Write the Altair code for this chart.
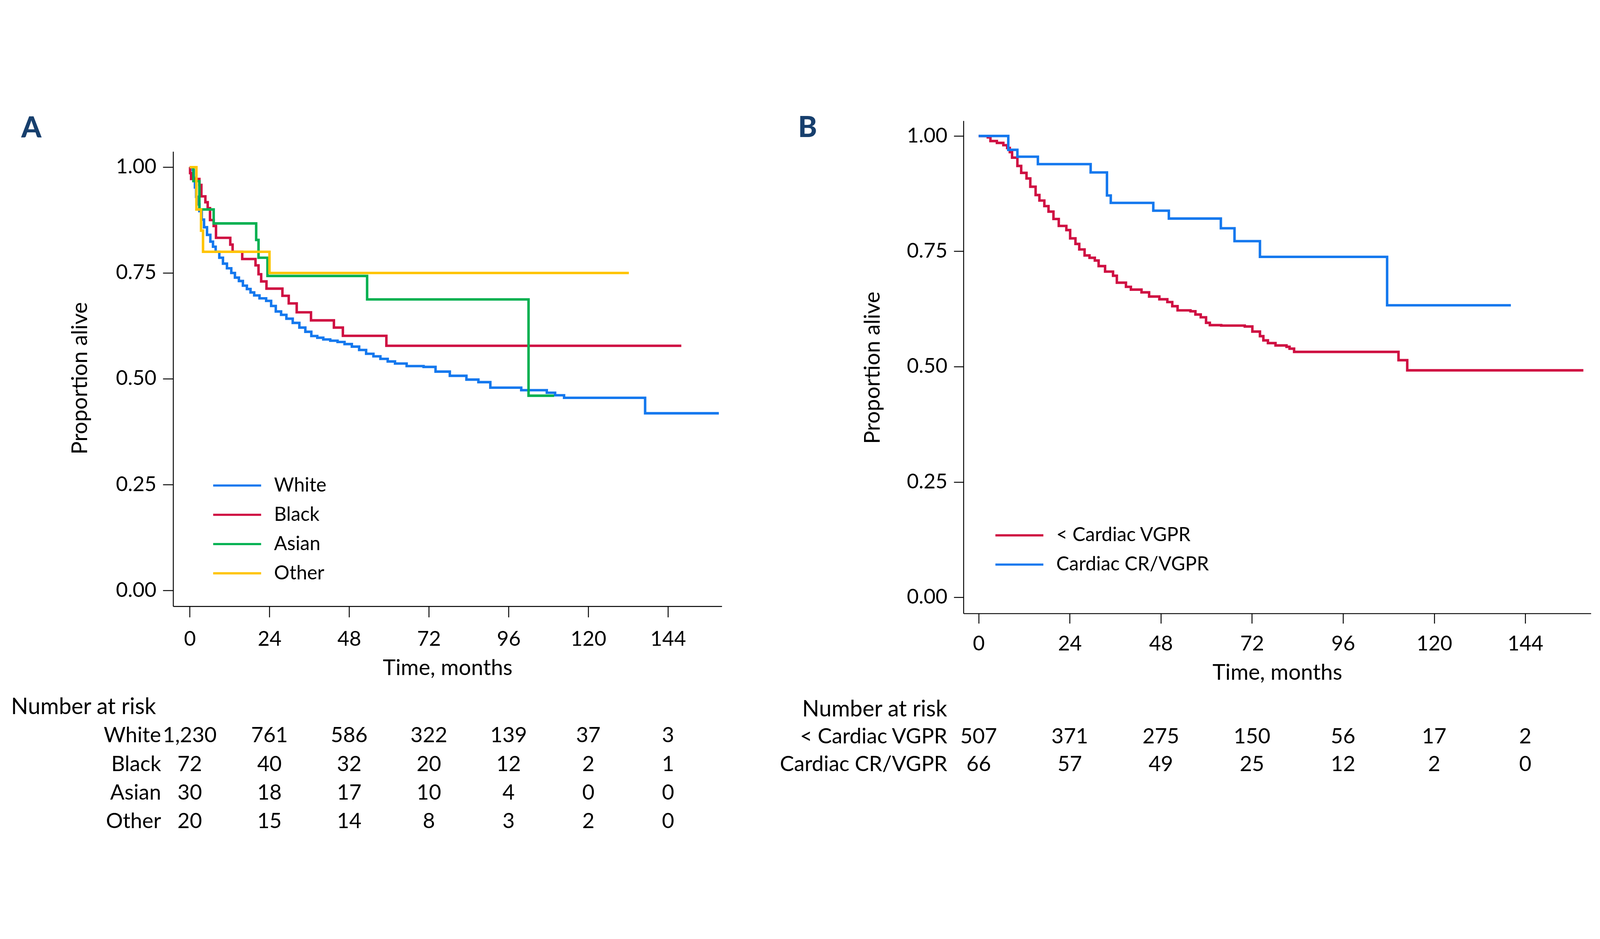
import altair as alt
import pandas as pd

FONT = "Lato"

# ---------------- Panel A : survival by race ----------------
races = ["White", "Black", "Asian", "Other"]
race_colors = ["#1478EE", "#CF0F42", "#00B050", "#FFC400"]

white_t = [0, 0.9, 1.2, 1.55, 1.9, 2.4, 2.9, 3.6, 4.3, 5.2, 6.2, 7.0, 7.8, 8.9, 10.0, 11.2, 12.5,
           13.6, 14.8, 16.0, 17.2, 18.3, 19.4, 21.0, 23.0, 24.5, 25.9, 27.5, 29.1, 31.0, 33.0,
           34.8, 36.6, 38.4, 40.2, 42.3, 44.5, 46.6, 48.8, 51.0, 53.1, 55.3, 57.4, 59.6, 61.8,
           65.3, 70.4, 74.0, 78.3, 83.3, 86.9, 90.5, 99.8, 107.5, 110.0, 112.7, 137.1, 159.3]
white_s = [1.0, 0.993, 0.975, 0.952, 0.930, 0.912, 0.896, 0.876, 0.858, 0.840, 0.824, 0.812, 0.800,
           0.786, 0.772, 0.761, 0.750, 0.739, 0.731, 0.720, 0.712, 0.704, 0.697, 0.690, 0.684,
           0.672, 0.659, 0.651, 0.642, 0.632, 0.621, 0.611, 0.601, 0.597, 0.593, 0.590, 0.587,
           0.582, 0.576, 0.568, 0.559, 0.553, 0.547, 0.541, 0.536, 0.530, 0.528, 0.517, 0.507,
           0.498, 0.492, 0.479, 0.473, 0.467, 0.461, 0.455, 0.4185, 0.4185]

black_t = [0, 0.1, 0.4, 2.9, 3.5, 4.7, 5.4, 6.1, 7.2, 7.9, 12.2, 12.9, 15.8, 19.8, 20.7, 21.5,
           23.1, 27.9, 29.8, 32.2, 36.5, 43.4, 46.1, 59.2, 148.0]
black_s = [1.0, 0.986, 0.972, 0.958, 0.931, 0.917, 0.903, 0.875, 0.861, 0.833, 0.817, 0.800,
           0.783, 0.768, 0.747, 0.730, 0.713, 0.696, 0.678, 0.657, 0.638, 0.621, 0.6015, 0.578, 0.578]

asian_t = [0, 1.1, 2.9, 7.2, 20.0, 20.7, 23.4, 53.4, 102.0, 109.7]
asian_s = [1.0, 0.967, 0.900, 0.867, 0.828, 0.786, 0.743, 0.6875, 0.460, 0.460]

other_t = [0, 2.0, 3.4, 4.0, 24.0, 132.2]
other_s = [1.0, 0.900, 0.850, 0.800, 0.750, 0.750]

risk_times = [0, 24, 48, 72, 96, 120, 144]
risk_white = [1230, 761, 586, 322, 139, 37, 3]
risk_black = [72, 40, 32, 20, 12, 2, 1]
risk_asian = [30, 18, 17, 10, 4, 0, 0]
risk_other = [20, 15, 14, 8, 3, 2, 0]

# ---------------- Panel B : survival by cardiac response ----------------
responses = ["< Cardiac VGPR", "Cardiac CR/VGPR"]
resp_colors = ["#CF0F42", "#1478EE"]

low_t = [0, 2.4, 3.1, 4.8, 6.5, 7.5, 8.2, 8.8, 10.2, 11.2, 12.6, 13.6, 15.0, 16.0, 17.3, 18.4,
         19.7, 21.1, 23.1, 24.1, 25.5, 26.5, 27.9, 29.2, 30.6, 31.6, 33.3, 35.4, 36.4, 38.8, 40.1,
         42.9, 44.9, 47.6, 49.7, 51.0, 52.4, 55.8, 57.1, 58.5, 59.9, 60.9, 63.9, 70.1, 72.1, 74.1,
         75.0, 76.2, 78.2, 81.1, 81.9, 83.1, 110.6, 112.9, 159.3]
low_s = [1.0, 0.997, 0.989, 0.985, 0.980, 0.974, 0.965, 0.953, 0.935, 0.920, 0.908, 0.890, 0.872,
         0.860, 0.848, 0.836, 0.820, 0.805, 0.796, 0.778, 0.766, 0.754, 0.741, 0.736, 0.730, 0.718,
         0.706, 0.697, 0.682, 0.673, 0.667, 0.661, 0.652, 0.646, 0.640, 0.631, 0.622, 0.620, 0.613,
         0.607, 0.595, 0.590, 0.589, 0.587, 0.576, 0.566, 0.557, 0.551, 0.546, 0.543, 0.539, 0.532,
         0.514, 0.492, 0.492]

good_t = [0, 7.8, 10.2, 15.6, 29.5, 33.8, 34.8, 46.0, 50.1, 63.8, 67.4, 74.1, 107.6, 140.2]
good_s = [1.0, 0.970, 0.955, 0.939, 0.921, 0.871, 0.855, 0.838, 0.821, 0.800, 0.772, 0.738, 0.633, 0.633]

risk_low = [507, 371, 275, 150, 56, 17, 2]
risk_good = [66, 57, 49, 25, 12, 2, 0]

y_ticks = [0, 0.25, 0.5, 0.75, 1.0]
HEADER = "Number at risk"


def curves_df(groups, ts, ss):
    rows = []
    for g, t, s in zip(groups, ts, ss):
        rows += [{"group": g, "t": a, "s": b} for a, b in zip(t, s)]
    return pd.DataFrame(rows)


def risk_df(groups, counts):
    rows = []
    for g, c in zip(groups, counts):
        rows += [{"row": g, "t": a, "n": b} for a, b in zip(risk_times, c)]
    return pd.DataFrame(rows)


def panel(cdf, rdf, groups, colors, width, height, x_domain, y_domain, y_range, legend_x, legend_y,
          row_range, label_dx, header_dx, letter, letter_dx, letter_dy, ytitle_x, ytitle_y,
          x_tick, x_lpad, x_tpad, y_tick, y_lpad):
    x_enc = alt.X("t:Q", title="Time, months",
                  scale=alt.Scale(domain=x_domain, nice=False, zero=False),
                  axis=alt.Axis(values=risk_times, format="d", tickSize=x_tick,
                                labelPadding=x_lpad, titlePadding=x_tpad))
    if y_range is not None:
        y_scale = alt.Scale(domain=y_domain, range=y_range, nice=False, zero=False)
    else:
        y_scale = alt.Scale(domain=y_domain, nice=False, zero=False)
    y_enc = alt.Y("s:Q", title="Proportion alive", scale=y_scale,
                  axis=alt.Axis(values=y_ticks, format=".2f", tickSize=y_tick,
                                labelPadding=y_lpad, titleX=ytitle_x, titleY=ytitle_y,
                                titleBaseline="middle", titleAngle=270))
    lines = alt.Chart(cdf).mark_line(
        interpolate="step-after", strokeWidth=8, strokeJoin="miter", strokeCap="butt"
    ).encode(
        x=x_enc,
        y=y_enc,
        color=alt.Color("group:N", scale=alt.Scale(domain=groups, range=colors),
                        legend=alt.Legend(orient="none", legendX=legend_x, legendY=legend_y,
                                          title=None, symbolType="stroke", symbolSize=23716,
                                          symbolStrokeWidth=7, labelFont=FONT, labelFontSize=62,
                                          labelColor="black", labelOffset=38, clipHeight=66,
                                          rowPadding=28, padding=0, labelLimit=0)),
    )
    # panel letter, anchored at the axis origin / top tick
    letter_df = pd.DataFrame({"t": [risk_times[0]], "s": [y_ticks[-1]], "letter": [letter]})
    letter_mark = alt.Chart(letter_df).mark_text(
        font=FONT, fontSize=92, fontWeight=900, color="#173F6D", align="left",
        baseline="alphabetic", dx=letter_dx, dy=letter_dy
    ).encode(x=x_enc, y=y_enc, text="letter:N")

    row_domain = [HEADER] + groups
    y_row = alt.Y("row:N", axis=None,
                  scale=alt.Scale(type="point", domain=row_domain, range=row_range, padding=0))
    nums = alt.Chart(rdf).mark_text(font=FONT, fontSize=68, baseline="middle", align="center",
                                    color="black").encode(
        x=x_enc, y=y_row, text=alt.Text("n:Q", format=","))
    lab_df = pd.DataFrame({"row": groups, "t": [risk_times[0]] * len(groups)})
    labels = alt.Chart(lab_df).mark_text(font=FONT, fontSize=68, baseline="middle", align="right",
                                         dx=label_dx, color="black").encode(
        x=x_enc, y=y_row, text="row:N")
    head_df = pd.DataFrame({"row": [HEADER], "t": [risk_times[0]]})
    head = alt.Chart(head_df).mark_text(font=FONT, fontSize=72, baseline="middle", align="left",
                                        dx=header_dx, color="black").encode(
        x=x_enc, y=y_row, text="row:N")
    table = alt.layer(nums, labels, head)
    return alt.layer(alt.layer(lines, letter_mark), table).resolve_scale(
        y="independent").properties(width=width, height=height)


cdf_a = curves_df(races, [white_t, black_t, asian_t, other_t], [white_s, black_s, asian_s, other_s])
rdf_a = risk_df(races, [risk_white, risk_black, risk_asian, risk_other])
cdf_b = curves_df(responses, [low_t, good_t], [low_s, good_s])
rdf_b = risk_df(responses, [risk_low, risk_good])

# Panel A plot area: x 554..2316, y 181..1642 (page pixels)
panel_a = panel(cdf_a, rdf_a, races, race_colors, 1762, 1461, [-5.0, 160.2], [-0.0375, 1.0368], None,
                125, 1040, [1786, 2154], -92, -574, "A", -541, -96, -298, 728, 35, 39, 27, 33, 21)
# Panel B plot area: x 3092..5107, y 82..1665 (origin aligned with panel A top = 181)
panel_b = panel(cdf_b, rdf_b, responses, resp_colors, 2015, 1484, [-4.0, 161.3], [-0.035, 1.033],
                [1484, -99], 99, 1200, [1793, 1970], -101, -567, "B", -580, 4, -290, 694,
                32, 35, 25, 31, 21)

chart = alt.concat(panel_a, panel_b, columns=2, spacing=776, align="each", bounds="flush").resolve_scale(
    color="independent"
).properties(
    autosize=alt.AutoSizeParams(type="none"),
    padding={"left": 546, "top": 173, "right": 4572, "bottom": 2216}
).configure_view(stroke=None).configure_axis(
    domainColor="black", domainWidth=3, tickColor="black", tickWidth=3,
    labelFont=FONT, labelFontSize=66, labelColor="black",
    titleFont=FONT, titleFontSize=70, titleFontWeight="normal", titleColor="black",
    grid=False, labelFlush=False, labelOverlap=False
)

chart.save("out.html", embed_options={"renderer": "svg", "actions": False})
